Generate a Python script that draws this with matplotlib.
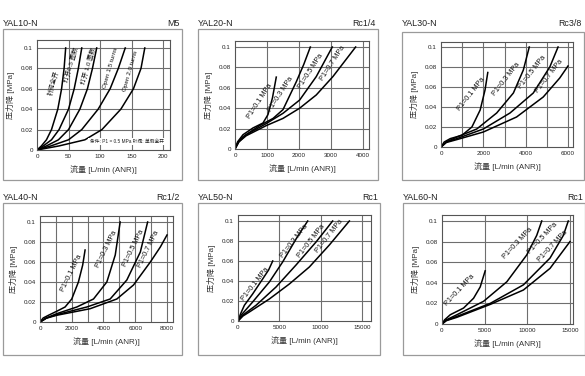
import matplotlib
matplotlib.use("Agg")
import matplotlib.pyplot as plt
from matplotlib.patches import Rectangle

plt.rcParams['font.family'] = ['Liberation Sans', 'Noto Sans CJK SC', 'DejaVu Sans']

W, H = 585, 376

# --- data ---
# YAL10-N (M5), needle valve opening
yal10_names = ["针阀全开", "打开0.5 圈数", "打开 1.0 圈数", "Open 1.5 turns", "Open 2.0 turns"]
yal10_x = [
    [0, 7, 15, 23, 33, 39, 43, 45.5],
    [0, 10, 23, 35, 50, 59, 65.6, 71],
    [0, 15, 34, 50, 68, 80, 88, 94.7],
    [0, 22, 50, 71, 97, 116, 129, 140],
    [0, 35, 76, 103, 133, 153, 165, 171],
]
yal10_y = [
    [0, 0.004, 0.01, 0.02, 0.04, 0.06, 0.08, 0.1],
    [0, 0.004, 0.01, 0.02, 0.04, 0.06, 0.08, 0.1],
    [0, 0.004, 0.01, 0.02, 0.04, 0.06, 0.08, 0.1],
    [0, 0.004, 0.01, 0.02, 0.04, 0.06, 0.08, 0.1],
    [0, 0.004, 0.01, 0.02, 0.04, 0.06, 0.08, 0.1],
]

p1_names = ["P1=0.1 MPa", "P1=0.3 MPa", "P1=0.5 MPa", "P1=0.7 MPa"]

yal20_x = [
    [0, 80, 250, 560, 875, 1030, 1170, 1290],
    [0, 100, 250, 770, 1190, 1500, 1917, 2150, 2354],
    [0, 120, 350, 980, 1500, 2020, 2540, 3040],
    [0, 120, 350, 980, 1500, 2020, 2540, 3060, 3770],
]
yal20_y = [
    [0, 0.007, 0.014, 0.0206, 0.0255, 0.0337, 0.05, 0.0705],
    [0, 0.007, 0.012, 0.023, 0.03, 0.0386, 0.066, 0.083, 0.1],
    [0, 0.007, 0.014, 0.025, 0.035, 0.048, 0.071, 0.1],
    [0, 0.007, 0.013, 0.023, 0.030, 0.040, 0.053, 0.071, 0.1],
]

yal30_x = [
    [0, 150, 440, 990, 1460, 1850, 2080, 2210],
    [0, 250, 750, 1690, 2630, 3420, 3890, 4170],
    [0, 250, 750, 2000, 3260, 4360, 5140, 5530],
    [0, 250, 750, 2000, 3570, 4830, 5610, 6000],
]
yal30_y = [
    [0, 0.005, 0.0084, 0.0117, 0.020, 0.037, 0.057, 0.0745],
    [0, 0.005, 0.010, 0.018, 0.034, 0.054, 0.077, 0.1],
    [0, 0.005, 0.0084, 0.018, 0.034, 0.054, 0.080, 0.1],
    [0, 0.0045, 0.0074, 0.015, 0.030, 0.050, 0.069, 0.081],
]

yal40_x = [
    [0, 200, 530, 1050, 1580, 2000, 2420, 2690, 2840],
    [0, 400, 1050, 2320, 3370, 4210, 4740, 5050],
    [0, 400, 1050, 2950, 4420, 5470, 6320, 6780],
    [0, 400, 1050, 3160, 4840, 5890, 6950, 7580, 8000],
]
yal40_y = [
    [0, 0.004, 0.0067, 0.0107, 0.015, 0.023, 0.04, 0.057, 0.072],
    [0, 0.004, 0.0083, 0.015, 0.023, 0.04, 0.067, 0.1],
    [0, 0.004, 0.0073, 0.015, 0.023, 0.042, 0.07, 0.1],
    [0, 0.0038, 0.0067, 0.0133, 0.023, 0.037, 0.06, 0.075, 0.087],
]

yal50_x = [
    [0, 300, 770, 1770, 2980, 3700, 4200],
    [0, 400, 1770, 3790, 5400, 7020, 8430],
    [0, 600, 2180, 4600, 7020, 9440, 11450],
    [0, 600, 1370, 3790, 6210, 8630, 11050, 13470],
]
yal50_y = [
    [0, 0.007, 0.0157, 0.027, 0.042, 0.051, 0.06],
    [0, 0.006, 0.019, 0.039, 0.059, 0.082, 0.1],
    [0, 0.006, 0.0157, 0.034, 0.056, 0.079, 0.1],
    [0, 0.005, 0.009, 0.022, 0.037, 0.054, 0.076, 0.1],
]

yal60_x = [
    [0, 300, 970, 2530, 3700, 4480, 5060],
    [0, 500, 1750, 4870, 7600, 9930, 11100, 11690],
    [0, 500, 1750, 5650, 9540, 12660, 14220, 14800],
    [0, 500, 1750, 5650, 9540, 12660, 15000],
]
yal60_y = [
    [0, 0.004, 0.009, 0.0155, 0.025, 0.036, 0.0516],
    [0, 0.004, 0.009, 0.022, 0.041, 0.067, 0.086, 0.1],
    [0, 0.0035, 0.0074, 0.020, 0.038, 0.064, 0.086, 0.1],
    [0, 0.0032, 0.0065, 0.019, 0.033, 0.054, 0.08],
]

# label anchor points (data coords) and rotation
panels = [
    dict(title="YAL10-N", port="M5", xs=yal10_x, ys=yal10_y, names=yal10_names,
         lab=[(26, 0.066), (54, 0.084), (81, 0.082), (116, 0.08), (148, 0.077)], rot=74,
         fs=4.6, ax=(37, 40, 170, 150), xmax=211, ymax=0.1078, xt=[0, 50, 100, 150, 200], xg=50,
         box=(3, 29, 182, 180), ty=23),
    dict(title="YAL20-N", port="Rc1/4", xs=yal20_x, ys=yal20_y, names=p1_names,
         lab=[(760, 0.047), (1420, 0.054), (2370, 0.076), (3040, 0.084)], rot=57,
         fs=5.2, ax=(235, 41, 369, 149), xmax=4188, ymax=0.1059, xt=[0, 1000, 2000, 3000, 4000],
         xg=1000, box=(198, 29, 378, 180), ty=23),
    dict(title="YAL30-N", port="Rc3/8", xs=yal30_x, ys=yal30_y, names=p1_names,
         lab=[(1420, 0.053), (3080, 0.068), (4330, 0.075), (5110, 0.071)], rot=52,
         fs=5.2, ax=(441, 42, 573, 147), xmax=6236, ymax=0.105, xt=[0, 2000, 4000, 6000],
         xg=1000, box=(402, 32, 584, 180), ty=24),
    dict(title="YAL40-N", port="Rc1/2", xs=yal40_x, ys=yal40_y, names=p1_names,
         lab=[(1960, 0.049), (4180, 0.073), (5870, 0.074), (6820, 0.073)], rot=64,
         fs=5.2, ax=(40, 216, 173, 322), xmax=8378, ymax=0.106, xt=[0, 2000, 4000, 6000, 8000],
         xg=1000, box=(3, 203, 182, 355), ty=198),
    dict(title="YAL50-N", port="Rc1", xs=yal50_x, ys=yal50_y, names=p1_names,
         lab=[(2100, 0.037), (6780, 0.080), (8800, 0.080), (11000, 0.085)], rot=52,
         fs=5.2, ax=(238, 215, 371, 321), xmax=16089, ymax=0.106, xt=[0, 5000, 10000, 15000],
         xg=5000, box=(198, 203, 380, 355), ty=198),
    dict(title="YAL60-N", port="Rc1", xs=yal60_x, ys=yal60_y, names=p1_names,
         lab=[(2100, 0.033), (8900, 0.078), (11850, 0.083), (13000, 0.075)], rot=47,
         fs=5.2, ax=(442, 215, 573, 324), xmax=15352, ymax=0.1058, xt=[0, 5000, 10000, 15000],
         xg=5000, box=(403, 203, 585, 355), ty=198),
]

fig = plt.figure(figsize=(W / 100, H / 100), dpi=100)
grid_c = "#6e6e6e"

for p in panels:
    # outer gray frame and titles
    bx0, by0, bx1, by1 = p["box"]
    fig.patches.append(Rectangle((bx0 / W, 1 - by1 / H), (bx1 - bx0) / W, (by1 - by0) / H,
                                 transform=fig.transFigure, fill=False,
                                 edgecolor="#9a9a9a", linewidth=0.9))
    fig.text(bx0 / W, 1 - p["ty"] / H, p["title"], fontsize=6.4, ha="left", va="center",
             color="#222222")
    fig.text((bx1 - 2) / W, 1 - p["ty"] / H, p["port"], fontsize=6.4, ha="right", va="center",
             color="#222222")

    l, t, r, b = p["ax"]
    ax = fig.add_axes([l / W, 1 - b / H, (r - l) / W, (b - t) / H])
    for xs, ys in zip(p["xs"], p["ys"]):
        ax.plot(xs, ys, color="black", linewidth=1.1, solid_joinstyle="round")
    for name, (lx, ly) in zip(p["names"], p["lab"]):
        ax.text(lx, ly, name, fontsize=p["fs"], rotation=p["rot"], ha="center", va="center",
                color="#111111", rotation_mode="anchor")

    ax.set_xlim(0, p["xmax"])
    ax.set_ylim(0, p["ymax"])
    xg = [v for v in range(0, int(p["xmax"]) + 1, p["xg"])]
    for v in xg[1:]:
        ax.axvline(v, color=grid_c, linewidth=0.8, zorder=0)
    for v in [0.02, 0.04, 0.06, 0.08, 0.1]:
        ax.axhline(v, color=grid_c, linewidth=0.8, zorder=0)
    ax.set_xticks(p["xt"])
    ax.set_xticklabels([str(v) for v in p["xt"]])
    ax.set_yticks([0, 0.02, 0.04, 0.06, 0.08, 0.1])
    ax.set_yticklabels(["0", "0.02", "0.04", "0.06", "0.08", "0.1"])
    ax.tick_params(labelsize=4.5, length=0, pad=3, colors="#222222")
    for s in ax.spines.values():
        s.set_color("#555555")
        s.set_linewidth(0.8)
    ax.set_xlabel("流量 [L/min (ANR)]", fontsize=5.8, labelpad=4, color="#333333")
    ax.set_ylabel("压力降 [MPa]", fontsize=5.8, labelpad=4, color="#333333")

    if p["title"] == "YAL10-N":
        ax.text(142, 0.008, "条件: P1 = 0.5 MPa 针阀: 单侧全开", fontsize=3.4, ha="center",
                va="center", color="#222222",
                bbox=dict(facecolor="white", edgecolor="none", pad=0.8))

fig.savefig("out.png", dpi=100)
